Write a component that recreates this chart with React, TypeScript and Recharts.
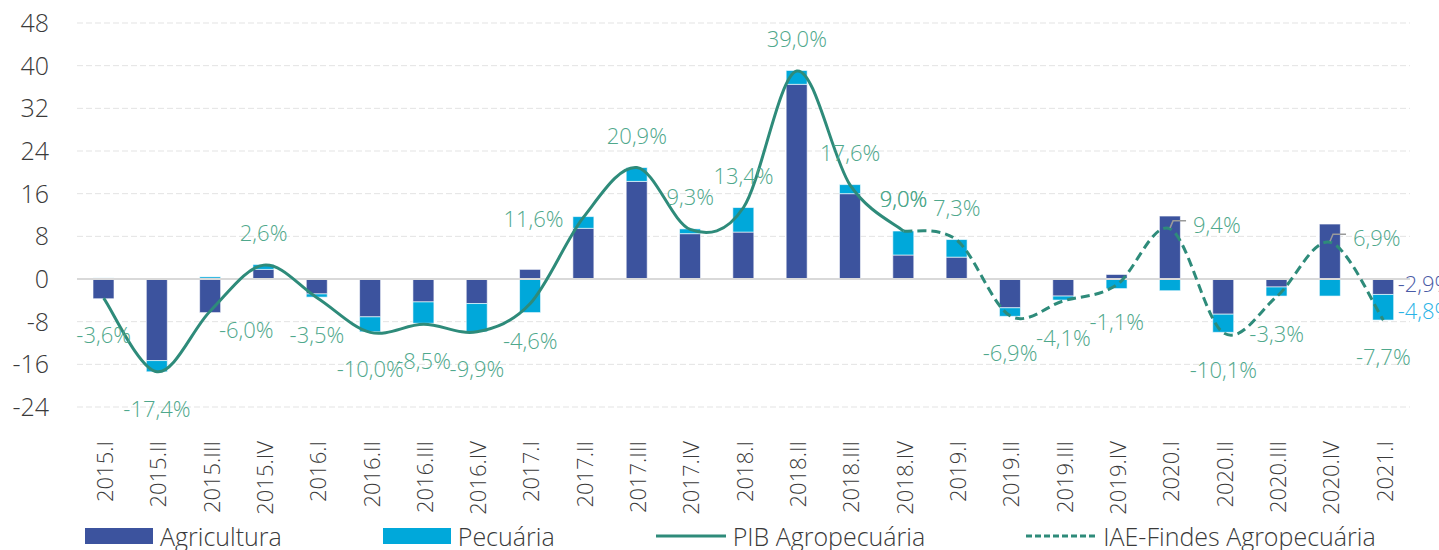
import {
  Bar,
  CartesianGrid,
  ComposedChart,
  LabelList,
  Line,
  ReferenceLine,
  XAxis,
  YAxis,
} from "recharts";

// Contribuição por trimestre (p.p.) e taxas do PIB / IAE-Findes agropecuária (%).
const QUARTERS = [
  "2015.I", "2015.II", "2015.III", "2015.IV",
  "2016.I", "2016.II", "2016.III", "2016.IV",
  "2017.I", "2017.II", "2017.III", "2017.IV",
  "2018.I", "2018.II", "2018.III", "2018.IV",
  "2019.I", "2019.II", "2019.III", "2019.IV",
  "2020.I", "2020.II", "2020.III", "2020.IV",
  "2021.I",
];
const AGRICULTURA = [
  -3.7, -15.3, -6.3, 1.8, -2.8, -7.1, -4.3, -4.6, 1.8, 9.5, 18.3, 8.5, 8.8,
  36.5, 16.0, 4.5, 4.1, -5.4, -3.2, 0.85, 11.8, -6.6, -1.5, 10.3, -2.9,
];
const PECUARIA = [
  0.2, -2.1, 0.4, 0.9, -0.6, -2.8, -4.0, -5.3, -6.3, 2.2, 2.6, 0.9, 4.6, 2.6,
  1.7, 4.5, 3.3, -1.6, -0.75, -1.8, -2.2, -3.4, -1.7, -3.2, -4.8,
];
// PIB até 2018.IV; IAE-Findes a partir de 2018.IV
const PIB = [
  -3.6, -17.4, -6.0, 2.6, -3.5, -10.0, -8.5, -9.9, -4.6, 11.6, 20.9, 9.3, 13.4,
  39.0, 17.6, 9.0,
];
const IAE = [9.0, 7.3, -6.9, -4.1, -1.1, 9.4, -10.1, -3.3, 6.9, -7.7];
const IAE_START = 15;
const Y_TICKS = [-24, -16, -8, 0, 8, 16, 24, 32, 40, 48];

const AGRI_COLOR = "#3C539E";
const PEC_COLOR = "#00A8DA";
const LINE_COLOR = "#2E8B7A";
const LABEL_COLOR = "#4FA88C";
const TEXT_COLOR = "#3a3a3a";
const FONT = "'Open Sans', sans-serif";

// Ajustes manuais de rótulo (dx, dy) — o resto fica acima/abaixo do ponto.
const LABEL_NUDGE: Record<number, [number, number]> = {
  2: [36, 18],
  9: [-50, 1],
};
// Rótulos com linha de chamada, à direita do ponto
const LEADER_LABELS = new Set([20, 23]);

const rows = QUARTERS.map((q, i) => ({
  q,
  agri: AGRICULTURA[i],
  pec: PECUARIA[i],
  pib: i < PIB.length ? PIB[i] : null,
  iae: i >= IAE_START ? IAE[i - IAE_START] : null,
}));

const fmt = (v: number) => `${v.toFixed(1).replace(".", ",")}%`;

/** Suavização tipo Excel (Bézier com tangentes Catmull-Rom). */
function excelSmooth(context: any) {
  let pts: [number, number][] = [];
  return {
    areaStart() {},
    areaEnd() {},
    lineStart() {
      pts = [];
    },
    point(x: number, y: number) {
      pts.push([+x, +y]);
    },
    lineEnd() {
      if (pts.length === 0) return;
      context.moveTo(pts[0][0], pts[0][1]);
      for (let i = 0; i < pts.length - 1; i++) {
        const p0 = pts[i - 1] ?? pts[i];
        const p1 = pts[i];
        const p2 = pts[i + 1];
        const p3 = pts[i + 2] ?? p2;
        context.bezierCurveTo(
          p1[0] + (p2[0] - p0[0]) / 6,
          p1[1] + (p2[1] - p0[1]) / 6,
          p2[0] - (p3[0] - p1[0]) / 6,
          p2[1] - (p3[1] - p1[1]) / 6,
          p2[0],
          p2[1],
        );
      }
    },
  };
}

function PointLabel(props: any) {
  const { x, y, value, index } = props;
  if (value === null || value === undefined) return null;
  if (LEADER_LABELS.has(index)) {
    return (
      <g>
        <path
          d={`M${x},${y - 1} L${x + 3},${y - 8} L${x + 16},${y - 8}`}
          fill="none"
          stroke="#9a9a9a"
          strokeWidth={1.5}
        />
        <text x={x + 23} y={y - 5} fill={LABEL_COLOR} fontSize={22} dominantBaseline="central">
          {fmt(value)}
        </text>
      </g>
    );
  }
  const [dx, dy] = LABEL_NUDGE[index] ?? [0, value < 0 ? 36 : -33];
  return (
    <text
      x={x + dx}
      y={y + dy}
      fill={LABEL_COLOR}
      fontSize={22}
      textAnchor="middle"
      dominantBaseline="central"
    >
      {fmt(value)}
    </text>
  );
}

// Só a última barra tem os valores das contribuições
function lastBarLabel(color: string, nudge: number) {
  return (props: any) => {
    const { x, y, width, height, value, index } = props;
    if (index !== QUARTERS.length - 1) return null;
    return (
      <text
        x={x + width + 4}
        y={y + height / 2 + nudge}
        fill={color}
        fontSize={22}
        dominantBaseline="central"
      >
        {fmt(value)}
      </text>
    );
  };
}

function QuarterTick(props: any) {
  const { x, y, payload } = props;
  return (
    <text
      transform={`translate(${x},${y + 26}) rotate(-90)`}
      textAnchor="end"
      dy="0.42em"
      fill={TEXT_COLOR}
      fontSize={22}
    >
      {payload.value}
    </text>
  );
}

function LegendSwatch({ kind }: { kind: "agri" | "pec" | "pib" | "iae" }) {
  if (kind === "agri" || kind === "pec") {
    return (
      <span
        style={{
          display: "inline-block",
          width: 68,
          height: 16,
          background: kind === "agri" ? AGRI_COLOR : PEC_COLOR,
        }}
      />
    );
  }
  return (
    <svg width={70} height={16} style={{ display: "block" }}>
      <line
        x1={0}
        x2={70}
        y1={8}
        y2={8}
        stroke={LINE_COLOR}
        strokeWidth={3}
        strokeDasharray={kind === "iae" ? "6 3" : undefined}
      />
    </svg>
  );
}

const LEGEND: { kind: "agri" | "pec" | "pib" | "iae"; label: string }[] = [
  { kind: "agri", label: "Agricultura" },
  { kind: "pec", label: "Pecuária" },
  { kind: "pib", label: "PIB Agropecuária" },
  { kind: "iae", label: "IAE-Findes Agropecuária" },
];

export default function App() {
  return (
    <div
      style={{
        position: "absolute",
        left: 0,
        top: 0,
        width: 1439,
        height: 550,
        overflow: "hidden",
        background: "#fff",
        fontFamily: FONT,
        fontWeight: 300,
      }}
    >
      <ComposedChart
        width={1439}
        height={550}
        data={rows}
        stackOffset="sign"
        barSize={21}
        margin={{ top: 23, right: 29, bottom: 0, left: 0 }}
      >
        <CartesianGrid vertical={false} stroke="#e3e3e3" strokeDasharray="6 3" />
        <XAxis
          dataKey="q"
          interval={0}
          height={143}
          axisLine={false}
          tickLine={false}
          tick={<QuarterTick />}
        />
        <YAxis
          domain={[-24, 48]}
          ticks={Y_TICKS}
          width={77}
          axisLine={false}
          tickLine={false}
          tickMargin={22}
          tick={{ fill: TEXT_COLOR, fontSize: 25 }}
        />
        <ReferenceLine y={0} stroke="#d9d9d9" strokeWidth={2} />
        <Bar
          dataKey="agri"
          stackId="s"
          fill={AGRI_COLOR}
          stroke="#ffffff"
          strokeOpacity={0.6}
          isAnimationActive={false}
        >
          <LabelList dataKey="agri" content={lastBarLabel("#4A5BA6", -4)} />
        </Bar>
        <Bar
          dataKey="pec"
          stackId="s"
          fill={PEC_COLOR}
          stroke="#ffffff"
          strokeOpacity={0.6}
          isAnimationActive={false}
        >
          <LabelList dataKey="pec" content={lastBarLabel("#2AB3E6", 3)} />
        </Bar>
        <Line
          dataKey="pib"
          type={excelSmooth as any}
          stroke={LINE_COLOR}
          strokeWidth={3}
          dot={false}
          activeDot={false}
          isAnimationActive={false}
        >
          <LabelList dataKey="pib" content={<PointLabel />} />
        </Line>
        <Line
          dataKey="iae"
          type={excelSmooth as any}
          stroke={LINE_COLOR}
          strokeWidth={3}
          strokeDasharray="9 5"
          dot={false}
          activeDot={false}
          isAnimationActive={false}
        >
          <LabelList dataKey="iae" content={<PointLabel />} />
        </Line>
      </ComposedChart>

      <div
        style={{
          position: "absolute",
          left: 85,
          top: 523,
          display: "flex",
          alignItems: "center",
          gap: 101,
          fontSize: 25,
          lineHeight: "26px",
          color: TEXT_COLOR,
          whiteSpace: "nowrap",
        }}
      >
        {LEGEND.map((item) => (
          <span key={item.kind} style={{ display: "flex", alignItems: "center", gap: 7 }}>
            <LegendSwatch kind={item.kind} />
            {item.label}
          </span>
        ))}
      </div>
    </div>
  );
}
